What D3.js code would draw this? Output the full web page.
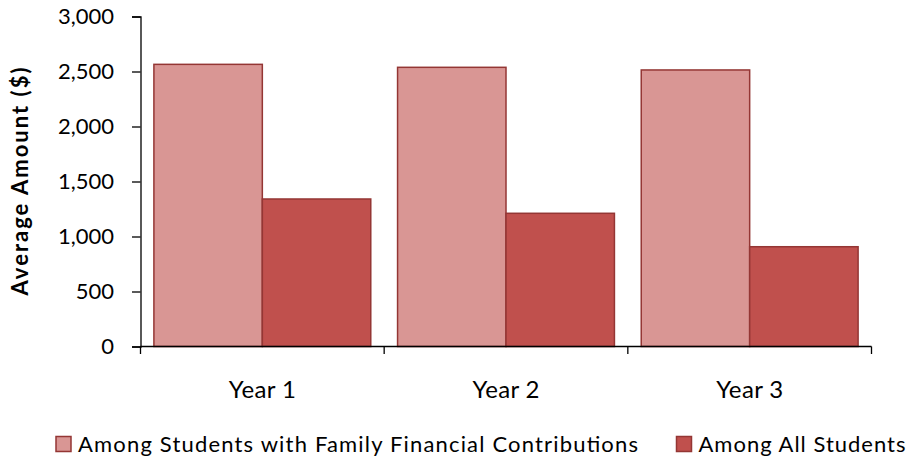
<!DOCTYPE html>
<html><head><meta charset="utf-8">
<script src="https://cdn.jsdelivr.net/npm/d3@7"></script>
<style>body{margin:0;background:#fff;} svg{display:block;} text{font-family:Lato, "Open Sans", sans-serif;}</style>
</head><body>
<svg id="c" width="912" height="457"></svg>
<script>
const categories = ["Year 1", "Year 2", "Year 3"];
const seriesNames = ["Among Students with Family Financial Contributions", "Among All Students"];
const familyValues = [2565, 2538, 2514];
const allValues = [1341, 1211, 907];
const yTicks = [0, 500, 1000, 1500, 2000, 2500, 3000];
const colors = ["#D99694", "#C0504D"];
const strokeColor = "#943634";

const svg = d3.select("#c");
const pLeft = 140.5, pRight = 871.5, pTop = 16.5, pBottom = 346.5;

const x0 = d3.scaleBand().domain(categories).range([pLeft, pRight]).paddingInner(0).paddingOuter(0);
const pad = x0.bandwidth() * 0.055;
const x1 = d3.scaleBand().domain([0, 1]).range([pad, x0.bandwidth() - pad]).padding(0);
const y = d3.scaleLinear().domain([0, 3000]).range([pBottom, pTop]);

const data = categories.map((c, i) => ({cat: c, vals: [familyValues[i], allValues[i]]}));

const g = svg.append("g");
data.forEach(d => {
  d.vals.forEach((v, j) => {
    g.append("rect")
      .attr("x", x0(d.cat) + x1(j))
      .attr("y", y(v))
      .attr("width", x1.bandwidth())
      .attr("height", y(0) - y(v))
      .attr("fill", colors[j])
      .attr("stroke", strokeColor)
      .attr("stroke-width", 1.5);
  });
});

// Y axis
const yAxis = d3.axisLeft(y).tickValues(yTicks).tickSize(8.5).tickPadding(18).tickFormat(d3.format(","));
const ya = svg.append("g").attr("transform", `translate(${pLeft},0)`).call(yAxis);
ya.select(".domain").attr("stroke", "#000").attr("stroke-width", 1.3);
ya.selectAll(".tick line").attr("stroke", "#000").attr("stroke-width", 1.3);
ya.selectAll("text").attr("font-size", 22).attr("fill", "#000").attr("font-family", "Lato, sans-serif");

// X axis
const xa = svg.append("g").attr("transform", `translate(0,${pBottom})`);
xa.append("line").attr("x1", pLeft).attr("x2", pRight).attr("y1", 0).attr("y2", 0).attr("stroke", "#000").attr("stroke-width", 1.3);
const tickXs = [pLeft].concat(categories.map(c => x0(c) + x0.bandwidth()));
tickXs.forEach(tx => xa.append("line").attr("x1", tx).attr("x2", tx).attr("y1", 0).attr("y2", 7.5).attr("stroke", "#000").attr("stroke-width", 1.3));
categories.forEach(c => {
  xa.append("text").attr("x", x0(c) + x0.bandwidth() / 2).attr("y", 51.5)
    .attr("text-anchor", "middle").attr("font-size", 24).attr("fill", "#000")
    .attr("textLength", 67).attr("lengthAdjust", "spacing").text(c);
});

// Y title
svg.append("text").attr("transform", `translate(28,${(pTop + pBottom) / 2}) rotate(-90)`)
  .attr("text-anchor", "middle").attr("font-size", 22).attr("font-weight", "bold").attr("fill", "#000")
  .attr("textLength", 228).attr("lengthAdjust", "spacing")
  .text("Average Amount ($)");

// Legend
const legX = [56, 676.5];
const legLen = [560, 207];
seriesNames.forEach((n, i) => {
  const lg = svg.append("g").attr("transform", `translate(${legX[i]},436.5)`);
  lg.append("rect").attr("x", 0).attr("y", 0).attr("width", 15).attr("height", 15)
    .attr("fill", colors[i]).attr("stroke", strokeColor).attr("stroke-width", 1.5);
  lg.append("text").attr("x", 22).attr("y", 15.2).attr("font-size", 22).attr("fill", "#000")
    .attr("textLength", legLen[i]).attr("lengthAdjust", "spacing").text(n);
});
</script>
</body></html>
